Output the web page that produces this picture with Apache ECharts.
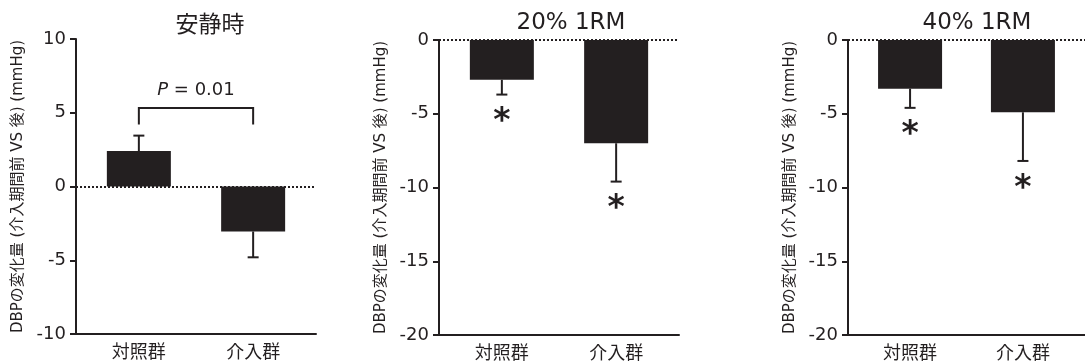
<!DOCTYPE html>
<html>
<head>
<meta charset="utf-8">
<script src="https://cdn.jsdelivr.net/npm/echarts@6/dist/echarts.min.js"></script>
<style>
  html, body { margin: 0; padding: 0; background: #fff; }
  #chart { width: 1085px; height: 363px; }
</style>
</head>
<body>
<div id="chart"></div>
<script>
// Change in diastolic blood pressure (before vs after intervention), mean and error
const panelTitles = ['安静時', '20% 1RM', '40% 1RM'];
const groups = ['対照群', '介入群'];

const restMean = [2.4, -3.05];
const restErr = [1.05, 1.75];
const restSig = [0, 0];

const rm20Mean = [-2.7, -7.0];
const rm20Err = [1.0, 2.6];
const rm20Sig = [1, 1];

const rm40Mean = [-3.3, -4.9];
const rm40Err = [1.3, 3.3];
const rm40Sig = [1, 1];

const restYRange = [-10, 10];
const rmYRange = [-20, 0];

const pText = 'P = 0.01';
const bracketY = [4.2, 5.33];
const pTextY = 6.55;

const yAxisName = 'DBPの変化量 (介入期間前 VS 後) (mmHg)';

const INK = '#231f20';
const LATIN = 'DejaVu Sans, Noto Sans CJK JP, sans-serif';
const CJK = 'Noto Sans CJK JP, DejaVu Sans, sans-serif';

const panels = [
  { title: panelTitles[0], mean: restMean, err: restErr, sig: restSig, range: restYRange, left: 76, top: 39, titleX: 205 },
  { title: panelTitles[1], mean: rm20Mean, err: rm20Err, sig: rm20Sig, range: rmYRange, left: 439, top: 40, titleX: 566 },
  { title: panelTitles[2], mean: rm40Mean, err: rm40Err, sig: rm40Sig, range: rmYRange, left: 848, top: 40, titleX: 972 }
];

const chart = echarts.init(document.getElementById('chart'), null, { renderer: 'canvas' });

const grid = [], xAxis = [], yAxis = [], series = [], title = [];

panels.forEach((p, k) => {
  grid.push({ left: p.left, top: p.top, width: 240, height: 295, containLabel: false });
  title.push({
    text: p.title, left: p.titleX, top: 7, textAlign: 'center',
    textStyle: { fontFamily: k === 0 ? CJK : LATIN, fontSize: 23, fontWeight: 'normal', color: INK }
  });
  xAxis.push({
    gridIndex: k, type: 'value', min: -0.55, max: 1.55,
    axisLine: { show: true, onZero: false, lineStyle: { color: INK, width: 2 } },
    axisTick: { show: false },
    splitLine: { show: false },
    axisLabel: {
      customValues: [0, 1],
      formatter: v => groups[Math.round(v)] || '',
      fontFamily: CJK, fontSize: 18, color: INK, margin: 8
    }
  });
  yAxis.push({
    gridIndex: k, type: 'value', min: p.range[0], max: p.range[1], interval: 5,
    name: yAxisName, nameLocation: 'middle', nameRotate: 90, nameGap: 50,
    nameTextStyle: { fontFamily: LATIN, fontSize: 15, color: INK },
    axisLine: { show: true, onZero: false, lineStyle: { color: INK, width: 2 } },
    axisTick: { show: true, length: 6, lineStyle: { color: INK, width: 2 } },
    splitLine: { show: false },
    axisLabel: { fontFamily: LATIN, fontSize: 18, color: INK, margin: 10 }
  });

  series.push({
    type: 'bar', xAxisIndex: k, yAxisIndex: k,
    data: p.mean.map((v, i) => [i, v]),
    barWidth: 64,
    itemStyle: { color: INK },
    silent: true,
    markLine: {
      silent: true, symbol: 'none', label: { show: false },
      lineStyle: { color: INK, width: 2, type: [2, 2], opacity: 1 },
      data: [{ yAxis: 0 }]
    },
    z: 2
  });

  series.push({
    type: 'custom', xAxisIndex: k, yAxisIndex: k, silent: true, clip: false, z: 3,
    data: p.mean.map((v, i) => [i, v, p.err[i], p.sig[i]]),
    renderItem: (params, api) => {
      const x = api.value(0), m = api.value(1), e = api.value(2), s = api.value(3);
      const end = m >= 0 ? m + e : m - e;
      const a = api.coord([x, m]);
      const b = api.coord([x, end]);
      const children = [
        { type: 'line', shape: { x1: a[0], y1: a[1], x2: b[0], y2: b[1] }, style: { stroke: INK, lineWidth: 2 } },
        { type: 'line', shape: { x1: b[0] - 5.5, y1: b[1], x2: b[0] + 5.5, y2: b[1] }, style: { stroke: INK, lineWidth: 2 } }
      ];
      if (s) {
        children.push({
          type: 'text',
          style: {
            text: '*', x: b[0], y: b[1] + 28, align: 'center', verticalAlign: 'middle',
            fontFamily: LATIN, fontSize: 33, fontWeight: 'bold', fill: INK
          }
        });
      }
      return { type: 'group', children };
    }
  });
});

// Significance bracket between the two groups at rest
series.push({
  type: 'custom', xAxisIndex: 0, yAxisIndex: 0, silent: true, clip: false, z: 4,
  data: [[0, 1]],
  renderItem: (params, api) => {
    const p0 = api.coord([api.value(0), bracketY[0]]);
    const p1 = api.coord([api.value(0), bracketY[1]]);
    const p2 = api.coord([api.value(1), bracketY[1]]);
    const p3 = api.coord([api.value(1), bracketY[0]]);
    const t = api.coord([(api.value(0) + api.value(1)) / 2, pTextY]);
    return {
      type: 'group',
      children: [
        { type: 'polyline', shape: { points: [p0, p1, p2, p3] }, style: { stroke: INK, lineWidth: 2, fill: null } },
        {
          type: 'text',
          style: {
            text: '{i|P} = 0.01', x: t[0], y: t[1], align: 'center', verticalAlign: 'middle',
            fontFamily: LATIN, fontSize: 18, fill: INK,
            rich: { i: { fontStyle: 'italic', fontFamily: LATIN, fontSize: 18, fill: INK } }
          }
        }
      ]
    };
  }
});

chart.setOption({
  animation: false,
  backgroundColor: '#ffffff',
  title, grid, xAxis, yAxis, series
});
</script>
</body>
</html>
